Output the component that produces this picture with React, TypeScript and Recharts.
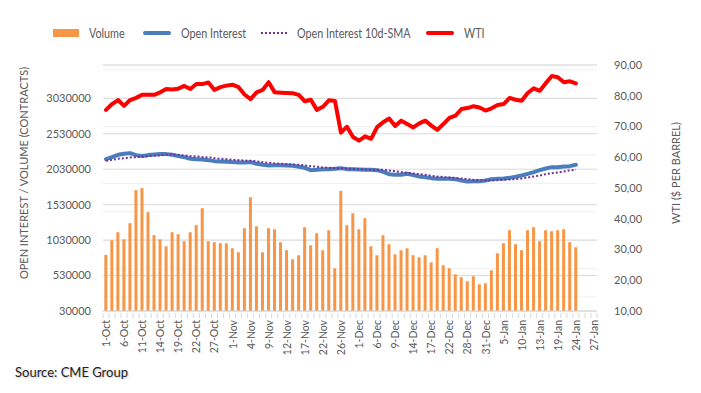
import {
  Bar,
  CartesianGrid,
  ComposedChart,
  Line,
  XAxis,
  YAxis
} from "recharts";

const octDays = [1, 4, 5, 6, 7, 8, 11, 12, 13, 14, 15, 18, 19, 20, 21, 22, 25, 26, 27, 28, 29];
const novDays = [1, 2, 3, 4, 5, 8, 9, 10, 11, 12, 15, 16, 17, 18, 19, 22, 23, 24, 26, 29, 30];
const decDays = [1, 2, 3, 6, 7, 8, 9, 10, 13, 14, 15, 16, 17, 20, 21, 22, 23, 27, 28, 29, 30, 31];
const janDays = [3, 4, 5, 6, 7, 10, 11, 12, 13, 14, 18, 19, 20, 21, 24, 25, 26, 27];

const dates = [
  ...octDays.map((d) => `${d}-Oct`),
  ...novDays.map((d) => `${d}-Nov`),
  ...decDays.map((d) => `${d}-Dec`),
  ...janDays.map((d) => `${d}-Jan`)
];

// contracts
const volume = [
  821000, 1028000, 1141000, 1042000, 1268000, 1734000, 1763000, 1424000, 1099000, 1042000,
  943000, 1141000, 1113000, 1014000, 1141000, 1240000, 1480000, 1014000, 1000000, 986000,
  986000, 915000, 859000, 1198000, 1635000, 1226000, 859000, 1198000, 1183000, 1000000,
  887000, 760000, 816000, 1212000, 957000, 1127000, 887000, 1169000, 633000, 1725000,
  1240000, 1409000, 1183000, 1339000, 943000, 816000, 1099000, 972000, 830000, 887000,
  915000, 816000, 788000, 816000, 717000, 915000, 675000, 633000, 548000, 506000,
  449000, 520000, 407000, 421000, 604000, 844000, 986000, 1169000, 972000, 887000,
  1169000, 1212000, 1014000, 1169000, 1155000, 1169000, 1183000, 1000000, 929000
];

const openInterest = [
  2172000, 2200000, 2233000, 2247000, 2257000, 2229000, 2215000, 2229000, 2238000, 2243000,
  2243000, 2233000, 2215000, 2200000, 2177000, 2172000, 2167000, 2158000, 2144000, 2139000,
  2135000, 2130000, 2125000, 2125000, 2130000, 2106000, 2092000, 2083000, 2087000, 2087000,
  2083000, 2078000, 2064000, 2050000, 2017000, 2022000, 2031000, 2031000, 2036000, 2045000,
  2031000, 2031000, 2026000, 2022000, 2022000, 2017000, 1993000, 1960000, 1951000, 1951000,
  1965000, 1946000, 1927000, 1918000, 1904000, 1894000, 1894000, 1894000, 1890000, 1871000,
  1857000, 1861000, 1861000, 1871000, 1890000, 1894000, 1899000, 1908000, 1923000, 1941000,
  1965000, 1988000, 2017000, 2040000, 2059000, 2059000, 2069000, 2073000, 2092000
];

const oiSma = [
  2149000, 2163000, 2177000, 2186000, 2196000, 2200000, 2205000, 2215000, 2219000, 2224000,
  2233000, 2238000, 2233000, 2224000, 2215000, 2210000, 2200000, 2196000, 2186000, 2177000,
  2172000, 2163000, 2158000, 2153000, 2149000, 2139000, 2130000, 2120000, 2111000, 2106000,
  2102000, 2097000, 2092000, 2083000, 2073000, 2064000, 2055000, 2050000, 2045000, 2045000,
  2040000, 2036000, 2031000, 2026000, 2022000, 2022000, 2022000, 2012000, 2003000, 1988000,
  1979000, 1970000, 1960000, 1951000, 1937000, 1927000, 1918000, 1913000, 1908000, 1899000,
  1890000, 1880000, 1876000, 1871000, 1871000, 1876000, 1880000, 1885000, 1890000, 1899000,
  1913000, 1927000, 1941000, 1960000, 1974000, 1984000, 1998000, 2012000, 2022000
];

// $ per barrel
const wti = [
  75.4, 77.3, 78.6, 76.7, 78.6, 79.3, 80.3, 80.3, 80.3, 81.1,
  82.2, 82.0, 82.3, 83.2, 82.2, 83.8, 83.8, 84.3, 81.9, 82.8,
  83.3, 83.6, 82.8, 80.4, 78.9, 81.1, 81.9, 84.4, 81.1, 81.0,
  80.9, 80.8, 80.3, 78.2, 78.7, 75.4, 76.4, 78.5, 78.3, 68.0,
  69.9, 66.6, 65.4, 66.8, 66.0, 69.8, 71.4, 72.6, 70.2, 71.9,
  70.8, 69.7, 71.0, 71.9, 70.3, 68.9, 70.8, 72.8, 73.5, 75.7,
  76.0, 76.6, 76.2, 75.2, 75.9, 77.0, 77.3, 79.3, 78.7, 78.4,
  80.9, 82.4, 81.6, 84.1, 86.4, 86.0, 84.4, 84.7, 84.0
];

const leftTicks = [30000, 530000, 1030000, 1530000, 2030000, 2530000, 3030000];
const rightTicks = [10, 20, 30, 40, 50, 60, 70, 80, 90];
const minorTicks: number[] = [];
for (let v = 30000; v < 3500000; v += 100000) minorTicks.push(v);

const data = dates.map((date, i) => ({
  date,
  volume: volume[i],
  oi: openInterest[i],
  sma: oiSma[i],
  wti: wti[i]
}));

const TEXT = "#595959";
const FONT = "Lato, 'Open Sans', sans-serif";

function DateTick(props: any) {
  const { x, y, payload } = props;
  const index = props.index ?? payload.index;
  const half = payload.offset ?? 3;
  const isLast = index === dates.length - 1;
  return (
    <g>
      <line x1={x - half} x2={x - half} y1={y} y2={y + 5} stroke="#d9d9d9" />
      {isLast ? <line x1={x + half} x2={x + half} y1={y} y2={y + 5} stroke="#d9d9d9" /> : null}
      {index % 3 === 0 ? (
        <text
          x={x}
          y={y + 7}
          transform={`rotate(-90, ${x}, ${y + 7})`}
          textAnchor="end"
          dominantBaseline="central"
          fontSize={10.5}
          fill={TEXT}
          fontFamily={FONT}
        >
          {payload.value}
        </text>
      ) : null}
    </g>
  );
}

const legendItems = [
  { label: "Volume", left: 53, kind: "bar", color: "#f79646" },
  { label: "Open Interest", left: 143, kind: "line", color: "#4a7ebb" },
  { label: "Open Interest 10d-SMA", left: 261, kind: "dot", color: "#7030a0" },
  { label: "WTI", left: 426, kind: "line", color: "#ff0000" }
];

export default function App() {
  return (
    <div style={{ position: "absolute", left: 0, top: 0, width: 701, height: 393, background: "#fff", fontFamily: FONT }}>
      {legendItems.map((item) => (
        <div key={item.label} style={{ position: "absolute", left: item.left, top: 25, height: 16, display: "flex", alignItems: "center" }}>
          {item.kind === "bar" ? (
            <div style={{ width: 26, height: 8, background: item.color }} />
          ) : item.kind === "line" ? (
            <div style={{ width: 28, height: 4, borderRadius: 2, background: item.color }} />
          ) : (
            <div style={{ width: 26, height: 0, borderTop: `2px dotted ${item.color}` }} />
          )}
          <span
            style={{
              marginLeft: 10,
              fontSize: 12.5,
              color: TEXT,
              whiteSpace: "nowrap",
              display: "inline-block",
              transform: "scaleX(0.86)",
              transformOrigin: "left center"
            }}
          >
            {item.label}
          </span>
        </div>
      ))}

      <ComposedChart
        width={701}
        height={393}
        data={data}
        margin={{ top: 65, right: 0, bottom: 0, left: 0 }}
        barCategoryGap="22%"
      >
        <XAxis
          dataKey="date"
          interval={0}
          height={82}
          tickSize={0}
          tickLine={false}
          axisLine={{ stroke: "#d9d9d9" }}
          tick={<DateTick />}
        />
        <YAxis
          yAxisId="left"
          orientation="left"
          width={103}
          domain={[30000, 3500000]}
          ticks={leftTicks}
          allowDataOverflow
          axisLine={false}
          tickLine={false}
          tickSize={0}
          tickMargin={12}
          tick={{ fontSize: 11, fill: TEXT, fontFamily: FONT }}
          tickFormatter={(v: number) => String(v)}
        />
        <YAxis
          yAxisId="right"
          orientation="right"
          width={104}
          domain={[10, 90]}
          ticks={rightTicks}
          allowDataOverflow
          axisLine={false}
          tickLine={false}
          tickSize={0}
          tickMargin={17}
          tick={{ fontSize: 11, fill: TEXT, fontFamily: FONT, textAnchor: "start" }}
          tickFormatter={(v: number) => v.toFixed(2).replace(".", ",")}
        />
        <YAxis
          yAxisId="grid"
          orientation="right"
          hide
          width={0}
          domain={[30000, 3500000]}
          ticks={minorTicks}
          allowDataOverflow
        />
        <CartesianGrid yAxisId="grid" vertical={false} stroke="#f0f0f0" />
        <CartesianGrid yAxisId="left" vertical={false} stroke="#d9d9d9" />
        <Bar yAxisId="left" dataKey="volume" fill="#f79646" isAnimationActive={false} />
        <Line
          yAxisId="left"
          dataKey="oi"
          stroke="#4a7ebb"
          strokeWidth={4}
          dot={false}
          activeDot={false}
          strokeLinejoin="round"
          strokeLinecap="round"
          isAnimationActive={false}
        />
        <Line
          yAxisId="left"
          dataKey="sma"
          stroke="#7030a0"
          strokeWidth={2}
          strokeDasharray="2 2"
          dot={false}
          activeDot={false}
          isAnimationActive={false}
        />
        <Line
          yAxisId="right"
          dataKey="wti"
          stroke="#ff0000"
          strokeWidth={4}
          dot={false}
          activeDot={false}
          strokeLinejoin="round"
          strokeLinecap="round"
          isAnimationActive={false}
        />
      </ComposedChart>

      <div
        style={{
          position: "absolute",
          left: 23,
          top: 173,
          transform: "translate(-50%, -50%) rotate(-90deg)",
          fontSize: 11,
          color: TEXT,
          whiteSpace: "nowrap"
        }}
      >
        OPEN INTEREST / VOLUME (CONTRACTS)
      </div>
      <div
        style={{
          position: "absolute",
          left: 675,
          top: 173,
          transform: "translate(-50%, -50%) rotate(-90deg)",
          fontSize: 11,
          color: TEXT,
          whiteSpace: "nowrap"
        }}
      >
        WTI ($ PER BARREL)
      </div>
      <div
        style={{
          position: "absolute",
          left: 15,
          top: 364,
          fontSize: 13,
          color: "#222",
          whiteSpace: "nowrap",
          textShadow: "1px 1px 2px rgba(0,0,0,0.25)"
        }}
      >
        Source: CME Group
      </div>
    </div>
  );
}
